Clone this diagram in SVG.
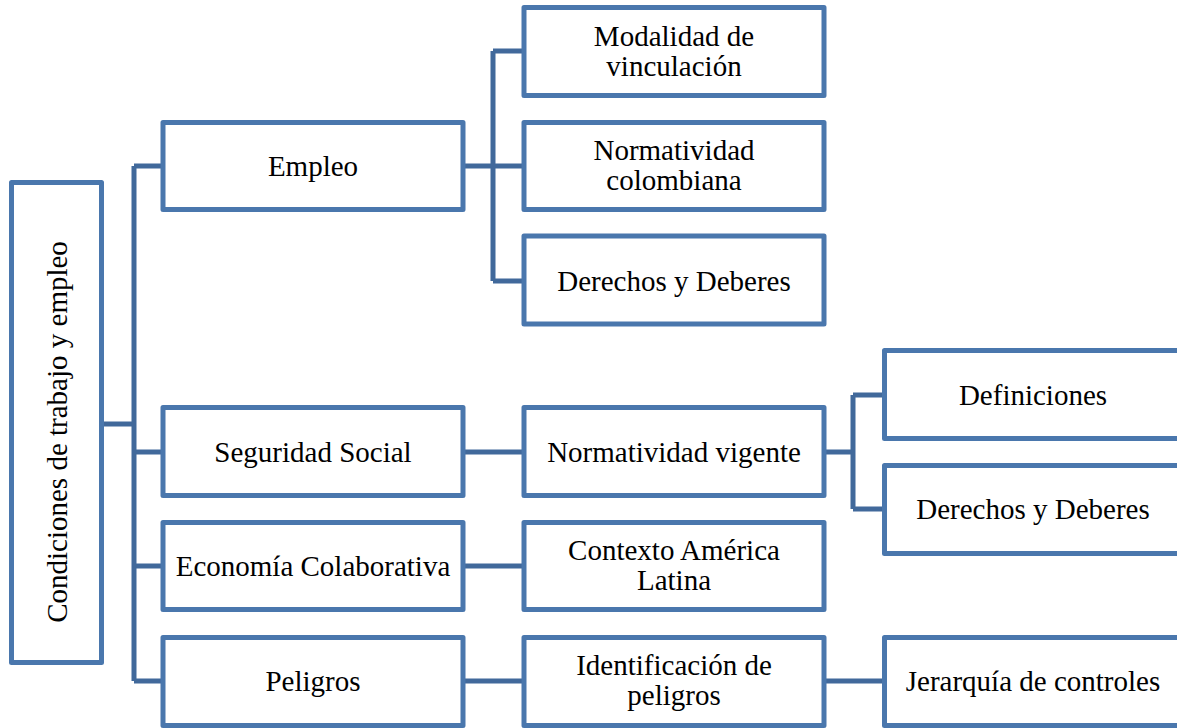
<svg xmlns="http://www.w3.org/2000/svg" width="1177" height="728" viewBox="0 0 1177 728">
<style>
.box{fill:#ffffff;stroke:#4A77AD;stroke-width:5;stroke-linejoin:round}
.con{fill:none;stroke:#41699B;stroke-width:5;stroke-linejoin:round}
</style>
<rect width="1177" height="728" fill="#ffffff"/>
<g id="connectors">
<path class="con" d="M104 424H134M134 166V681M134 166H163M134 452H163M134 566H163M134 681H163"/>
<path class="con" d="M463 166H493M493 51V281M493 51H524M493 166H524M493 281H524"/>
<path class="con" d="M463 452H524M463 566H524M463 681H524"/>
<path class="con" d="M824 452H853M853 395V509M853 395H884M853 509H884"/>
<path class="con" d="M824 681H884"/>
</g>
<g font-family="Liberation Serif, Times New Roman, serif" font-size="29" fill="#000000" text-anchor="middle">
<g id="root"><rect class="box" x="11.5" y="182.5" width="90" height="480"/><text transform="translate(67,432) rotate(-90)">Condiciones de trabajo y empleo</text></g>
<g id="empleo"><rect class="box" x="163" y="122.5" width="300" height="87"/><text x="313" y="176">Empleo</text></g>
<g id="seguridad"><rect class="box" x="163" y="407.5" width="300" height="88"/><text x="313" y="462">Seguridad Social</text></g>
<g id="economia"><rect class="box" x="163" y="522.5" width="300" height="87"/><text x="313" y="576">Economía Colaborativa</text></g>
<g id="peligros"><rect class="box" x="163" y="637.5" width="300" height="88"/><text x="313" y="691">Peligros</text></g>
<g id="modalidad"><rect class="box" x="524" y="7.5" width="300" height="88"/><text x="674" y="45.5">Modalidad de</text><text x="674" y="75.5">vinculación</text></g>
<g id="normcol"><rect class="box" x="524" y="122.5" width="300" height="87"/><text x="674" y="160">Normatividad</text><text x="674" y="190">colombiana</text></g>
<g id="derechos1"><rect class="box" x="524" y="236" width="300" height="88"/><text x="674" y="291">Derechos y Deberes</text></g>
<g id="normvig"><rect class="box" x="524" y="407.5" width="300" height="88"/><text x="674" y="462">Normatividad vigente</text></g>
<g id="contexto"><rect class="box" x="524" y="522.5" width="300" height="87"/><text x="674" y="560">Contexto América</text><text x="674" y="590">Latina</text></g>
<g id="identificacion"><rect class="box" x="524" y="637.5" width="300" height="88"/><text x="674" y="675">Identificación de</text><text x="674" y="705">peligros</text></g>
<g id="definiciones"><rect class="box" x="884.5" y="350.5" width="300" height="88"/><text x="1033" y="405">Definiciones</text></g>
<g id="derechos2"><rect class="box" x="884.5" y="465.5" width="300" height="88"/><text x="1033" y="519">Derechos y Deberes</text></g>
<g id="jerarquia"><rect class="box" x="884.5" y="637.5" width="300" height="88"/><text x="1033" y="691">Jerarquía de controles</text></g>
</g>
</svg>
